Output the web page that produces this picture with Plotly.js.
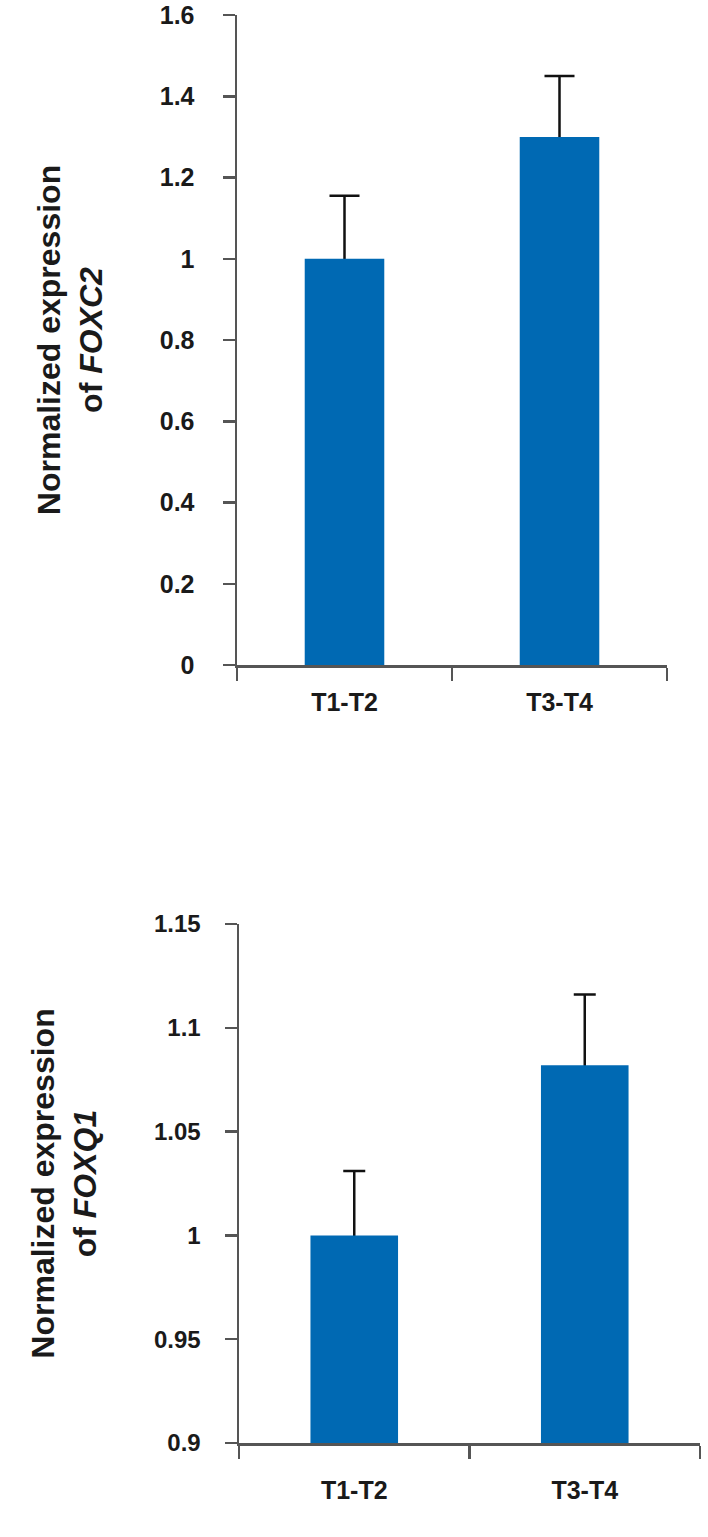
<!DOCTYPE html>
<html>
<head>
<meta charset="utf-8">
<script src="https://cdn.plot.ly/plotly-3.0.1.min.js"></script>
<style>html,body{margin:0;padding:0;background:#fff;}#chart{width:708px;height:1537px;}</style>
</head>
<body>
<div id="chart"></div>
<script>
// Data
const categories = ["T1-T2", "T3-T4"];
const foxc2Values = [1.0, 1.30];
const foxc2Errors = [0.155, 0.15];
const foxq1Values = [1.0, 1.082];
const foxq1Errors = [0.031, 0.034];
const foxc2TickVals = [0, 0.2, 0.4, 0.6, 0.8, 1, 1.2, 1.4, 1.6];
const foxc2TickText = ["0", "0.2", "0.4", "0.6", "0.8", "1", "1.2", "1.4", "1.6"];
const foxq1TickVals = [0.9, 0.95, 1, 1.05, 1.1, 1.15];
const foxq1TickText = ["0.9", "0.95", "1", "1.05", "1.1", "1.15"];

const FONT = "Liberation Sans, Arial, Helvetica, sans-serif";
const BAR = "#0069B3";
const AXIS = "#555555";
const TXT = "#1a1a1a";

// Error bars are drawn on a transparent bar trace placed first; the visible
// bars are drawn after it, so only the upper half of each (symmetric) error bar shows.
function errTrace(x, y, err, xa, ya, w, capw) {
  return {
    type: "bar", x: x, y: y, xaxis: xa, yaxis: ya, width: w,
    marker: {color: "rgba(0,0,0,0)", line: {width: 0}},
    error_y: {type: "data", array: err, color: "#111111", thickness: 2.5, width: capw},
    showlegend: false, hoverinfo: "skip"
  };
}
function barTrace(x, y, xa, ya, w) {
  return {
    type: "bar", x: x, y: y, xaxis: xa, yaxis: ya, width: w,
    marker: {color: BAR, line: {width: 0}},
    showlegend: false, hoverinfo: "x+y"
  };
}

const traces = [
  errTrace(categories, foxc2Values, foxc2Errors, "x", "y", 0.37, 15),
  barTrace(categories, foxc2Values, "x", "y", 0.37),
  errTrace(categories, foxq1Values, foxq1Errors, "x2", "y2", 0.38, 11),
  barTrace(categories, foxq1Values, "x2", "y2", 0.38)
];

const W = 708, H = 1537;
function dx(a, b) { return [a / W, b / W]; }
function dy(top, bottom) { return [(H - bottom) / H, (H - top) / H]; }

const xCommon = {
  type: "category", showline: true, linecolor: AXIS, linewidth: 2.5,
  ticks: "outside", tickson: "boundaries", ticklen: 13, tickwidth: 2.5, tickcolor: AXIS,
  showgrid: false, zeroline: false, fixedrange: true,
  tickfont: {family: FONT, size: 25, color: TXT, weight: "bold"}
};
const yCommon = {
  showline: true, linecolor: AXIS, linewidth: 2.5,
  ticks: "outside", ticklen: 12, tickwidth: 2.5, tickcolor: AXIS,
  showgrid: false, zeroline: false, fixedrange: true, tickmode: "array"
};

const layout = {
  width: W, height: H,
  margin: {l: 0, r: 0, t: 0, b: 0},
  paper_bgcolor: "#ffffff", plot_bgcolor: "#ffffff",
  barmode: "overlay",
  xaxis: Object.assign({}, xCommon, {domain: dx(237, 667), anchor: "y", ticklabelstandoff: 13}),
  yaxis: Object.assign({}, yCommon, {
    domain: dy(15, 665), anchor: "x", range: [0, 1.6],
    tickvals: foxc2TickVals, ticktext: foxc2TickText, ticklabelstandoff: 23,
    tickfont: {family: FONT, size: 25, color: TXT, weight: "bold"},
    title: {text: "<b>Normalized expression<br>of <i>FOXC2</i></b>", standoff: 48,
            font: {family: FONT, size: 32, color: TXT}}
  }),
  xaxis2: Object.assign({}, xCommon, {domain: dx(239, 700), anchor: "y2", ticklabelstandoff: 23}),
  yaxis2: Object.assign({}, yCommon, {
    domain: dy(924, 1443), anchor: "x2", range: [0.9, 1.15],
    tickvals: foxq1TickVals, ticktext: foxq1TickText, ticklabelstandoff: 19,
    tickfont: {family: FONT, size: 24, color: TXT, weight: "bold"},
    title: {text: "<b>Normalized expression<br>of <i>FOXQ1</i></b>", standoff: 48,
            font: {family: FONT, size: 32, color: TXT}}
  })
};

Plotly.newPlot("chart", traces, layout, {staticPlot: true, displayModeBar: false});
</script>
</body>
</html>
